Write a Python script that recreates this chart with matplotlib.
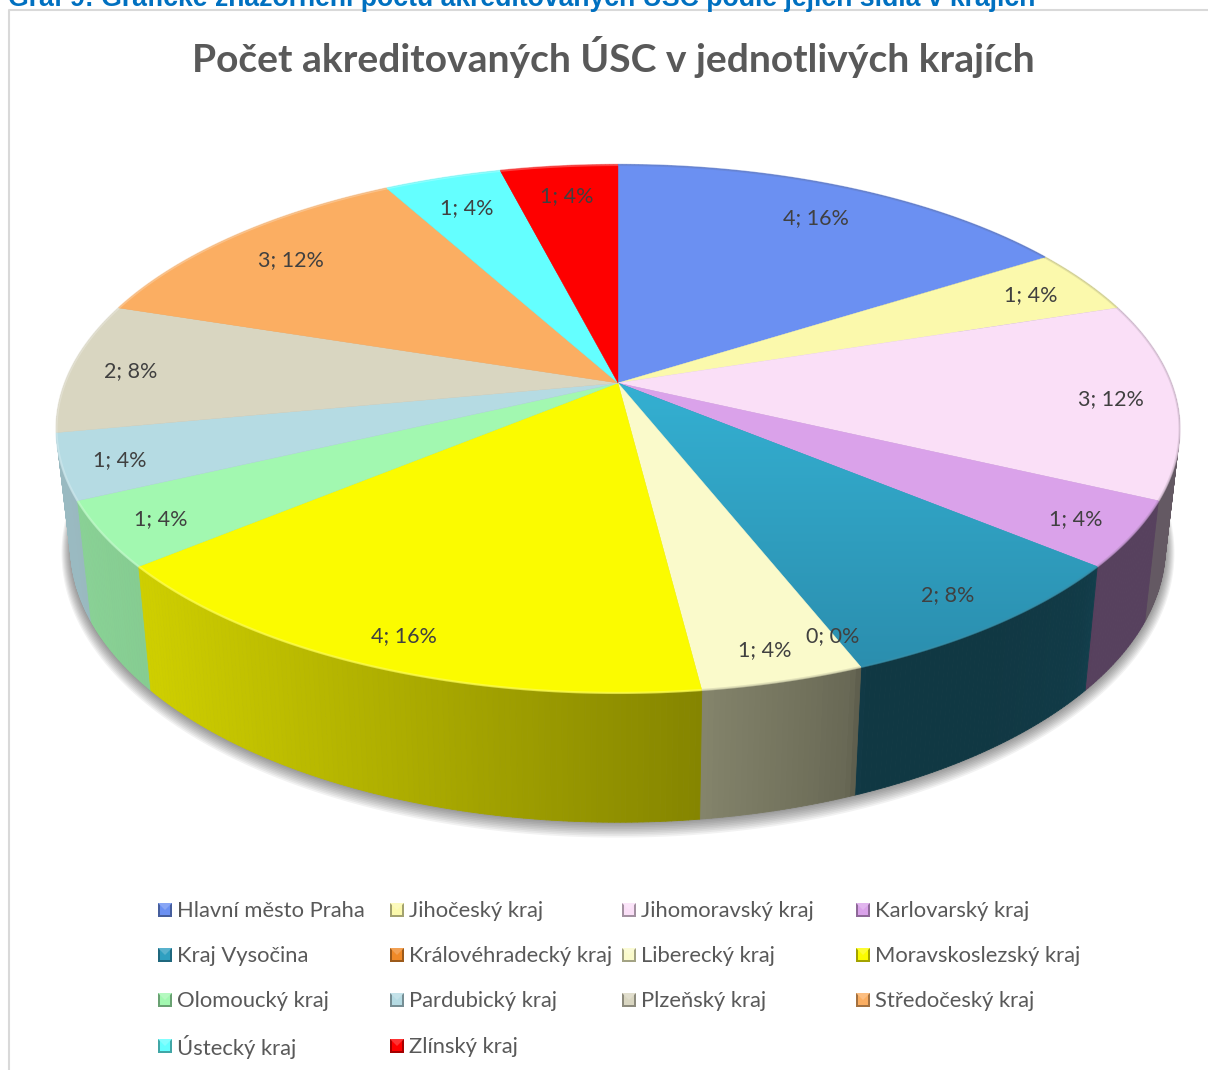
import numpy as np
import matplotlib
matplotlib.use('Agg')
import matplotlib.pyplot as plt
from matplotlib.collections import PolyCollection
from matplotlib.patches import Polygon, Rectangle
from matplotlib.colors import to_rgb

regions = ['Hlavní město Praha', 'Jihočeský kraj', 'Jihomoravský kraj', 'Karlovarský kraj',
           'Kraj Vysočina', 'Královéhradecký kraj', 'Liberecký kraj', 'Moravskoslezský kraj',
           'Olomoucký kraj', 'Pardubický kraj', 'Plzeňský kraj', 'Středočeský kraj',
           'Ústecký kraj', 'Zlínský kraj']
counts = [4, 1, 3, 1, 2, 0, 1, 4, 1, 1, 2, 3, 1, 1]
colors = ['#6b90f2', '#fbf9ac', '#fadff7', '#daa2ea', '#2f9fc0', '#f08a28', '#fafacb', '#fbfb00',
          '#a2f8b0', '#b5dbe3', '#d9d6c1', '#fbae62', '#64ffff', '#fe0000']
# distance of each data label from the centre, as a share of the radius
label_r = [.84, .878, .885, .898, .888, .90, .907, .90, .898, .902, .892, .839, .844, .853]

title = 'Počet akreditovaných ÚSC v jednotlivých krajích'
caption = 'Graf 9: Grafické znázornění počtu akreditovaných ÚSC podle jejich sídla v krajích'

# perspective of the pie, in pixels
CX, CY = 618, 383
A, B, P = 553, 256, 0.174
A2, B2, CY2 = 539, 267, 499


def top_xy(theta, r=1.0):
    x, y = r * np.sin(theta), r * np.cos(theta)
    d = 1 + P * y
    return CX + A * x / d, CY - B * y / d


def bottom_xy(theta, grow=0.0, down=0.0):
    x, y = np.sin(theta), np.cos(theta)
    d = 1 + P * y
    return CX + (A2 + grow) * x / d, CY2 + down - (B2 + grow) * y / d


def side_shade(px):
    return np.interp(px, [70, 150, 700, 850, 865, 1000, 1085, 1100, 1170],
                     [.85, .82, .53, .42, .35, .35, .37, .40, .40])


def mix(c, other, t):
    return tuple(np.array(to_rgb(c)) * (1 - t) + np.array(to_rgb(other)) * t)


plt.rcParams['font.family'] = ['Lato', 'DejaVu Sans']
fig = plt.figure(figsize=(12.08, 10.7), dpi=100)
ax = fig.add_axes([0, 0, 1, 1])
ax.set_xlim(0, 1208)
ax.set_ylim(1070, 0)
ax.axis('off')

# chart frame
ax.plot([1208, 9, 9], [10, 10, 1070], color='#d9d9d9', lw=1.5, zorder=1)
ax.text(8, 6, caption, color='#0070c0', fontsize=19.2, fontweight='bold',
        family=['Liberation Sans'], va='baseline', ha='left', zorder=1)
ax.text(613.5, 57, title, color='#595959', fontsize=28.1, fontweight='bold',
        ha='center', va='center', zorder=5)

edges = np.cumsum([0] + counts) / sum(counts) * 2 * np.pi

# soft shadow under the pie
t_all = np.linspace(0, 2 * np.pi, 361)
for grow in np.arange(9, 0, -1):
    sx, sy = bottom_xy(t_all, grow=grow, down=grow * 0.5)
    ax.add_patch(Polygon(np.c_[sx, sy], closed=True, fc='black', ec='none', alpha=0.05, zorder=2))

# side wall, thin strips so that the shading can run along it
strips = []
for i in range(len(counts)):
    if counts[i] == 0:
        continue
    n = max(int(np.degrees(edges[i + 1] - edges[i]) * 2), 2)
    t = np.linspace(edges[i], edges[i + 1], n + 1)
    for a, b in zip(t[:-1], t[1:]):
        x1, y1 = top_xy(a)
        x2, y2 = top_xy(b)
        x3, y3 = bottom_xy(b)
        x4, y4 = bottom_xy(a)
        f = side_shade((x1 + x2) / 2)
        strips.append((np.cos(a), [(x1, y1), (x2, y2), (x3, y3), (x4, y4)],
                       tuple(np.array(to_rgb(colors[i])) * f)))
strips.sort(key=lambda s: -s[0])
ax.add_collection(PolyCollection([s[1] for s in strips], facecolors=[s[2] for s in strips],
                                 edgecolors=[s[2] for s in strips], linewidths=0.6, zorder=3))

# top faces
for i in range(len(counts)):
    if counts[i] == 0:
        continue
    t = np.linspace(edges[i], edges[i + 1], 120)
    sx, sy = top_xy(t)
    pts = np.vstack([[CX, CY], np.c_[sx, sy]])
    patch = Polygon(pts, closed=True, fc=colors[i], ec=colors[i], lw=0.3, zorder=4)
    ax.add_patch(patch)
    if regions[i] == 'Kraj Vysočina':
        # this slice visibly darkens towards the rim
        c0, c1 = np.array(to_rgb('#34b0d2')), np.array(to_rgb('#2b8eae'))
        grad = np.linspace(0, 1, 256)[:, None, None] * (c1 - c0) + c0
        im = ax.imshow(grad, extent=[min(sx.min(), CX) - 2, sx.max() + 2, sy.max() + 1, CY],
                       aspect='auto', zorder=4)
        im.set_clip_path(patch)
    # bevel along the rim
    if np.sin((edges[i] + edges[i + 1]) / 2) < 0:
        rim = mix(colors[i], 'white', .35)
    else:
        rim = mix(colors[i], '#555555', .2)
    ax.plot(sx, sy, color=rim, lw=1.6, alpha=.7, zorder=4.5, solid_capstyle='butt')

ax.set_xlim(0, 1208)
ax.set_ylim(1070, 0)

# data labels
total = sum(counts)
for i in range(len(counts)):
    mid = (edges[i] + edges[i + 1]) / 2
    lx, ly = top_xy(mid, label_r[i])
    ax.text(lx, ly + 2, f'{counts[i]}; {round(100 * counts[i] / total)}%', color='#404040',
            fontsize=15.5, ha='center', va='center', zorder=6)

# legend with bevelled keys
col_x = [158, 390, 622, 856]
row_y = [910, 955, 1000, 1046]
for i in range(len(regions)):
    x0 = col_x[i % 4]
    y0 = row_y[i // 4]
    s = 7
    c = colors[i]
    ax.add_patch(Rectangle((x0, y0 - s), 2 * s, 2 * s, fc=mix(c, 'black', .35), ec='none', zorder=5))
    ax.add_patch(Rectangle((x0 + 2, y0 - s), 2 * s - 4, 2 * s - 2, fc=c, ec='none', zorder=5.1))
    ax.add_patch(Polygon([(x0, y0 - s), (x0 + 2 * s, y0 - s), (x0 + s, y0)], closed=True,
                         fc=mix(c, 'white', .2), ec='none', zorder=5.2))
    ax.text(x0 + 19, y0 + 1, regions[i], color='#595959', fontsize=15.8, ha='left',
            va='center', zorder=5)

fig.savefig('out.png', dpi=100)
